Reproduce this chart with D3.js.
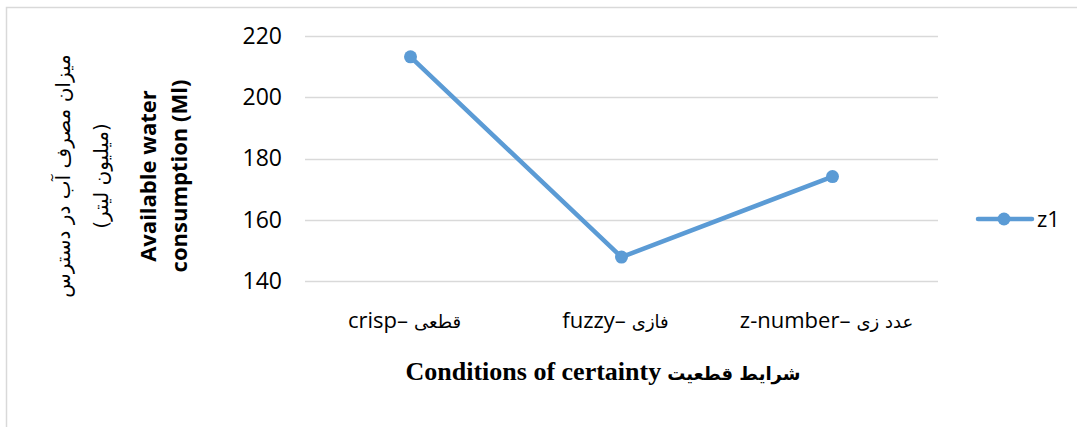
<!DOCTYPE html>
<html>
<head>
<meta charset="utf-8">
<script src="https://cdn.jsdelivr.net/npm/d3@7"></script>
<style>
  body { margin: 0; background: #fff; }
</style>
</head>
<body>
<script>
var w = 1077, h = 427;

// data
var categories = ['crisp', 'fuzzy', 'z-number'];
var catFa = ['قطعی', 'فازی', 'عدد زی'];
var z1 = [213.2, 147.8, 174.1];
var yTicks = [140, 160, 180, 200, 220];
var seriesName = 'z1';

var blue = '#5b9bd5';

var svg = d3.select('body').append('svg')
  .attr('width', w).attr('height', h);

// outer frame (right/bottom edges fall outside the picture)
svg.append('rect')
  .attr('x', 6.5).attr('y', 7.5)
  .attr('width', 1090).attr('height', 440)
  .attr('fill', 'none').attr('stroke', '#d9d9d9').attr('stroke-width', 1.5);

var x = d3.scaleBand().domain(categories).range([305, 938]);
var y = d3.scaleLinear().domain([140, 220]).range([281, 36]);

// gridlines
svg.append('g').selectAll('line').data(yTicks).enter().append('line')
  .attr('x1', 305).attr('x2', 938)
  .attr('y1', function(d) { return Math.round(y(d)) + 0.5; })
  .attr('y2', function(d) { return Math.round(y(d)) + 0.5; })
  .attr('stroke', '#d9d9d9').attr('stroke-width', 1.3);

// y axis labels
var yAxis = d3.axisLeft(y).tickValues(yTicks).tickSize(0).tickPadding(23);
var gy = svg.append('g').attr('transform', 'translate(305,0)').call(yAxis);
gy.select('.domain').remove();
gy.selectAll('text')
  .attr('font-family', '"Open Sans", sans-serif')
  .attr('font-size', 23).attr('fill', '#000');

// category labels
var xl = svg.append('g').selectAll('text').data(categories).enter().append('text')
  .attr('x', function(d) { return x(d) + x.bandwidth() / 2 - 6; })
  .attr('y', 328)
  .attr('text-anchor', 'middle')
  .attr('direction', 'ltr')
  .attr('font-family', '"Open Sans", sans-serif')
  .attr('font-size', 22).attr('fill', '#000');
xl.append('tspan').text(function(d) { return d + '–'; });
xl.append('tspan')
  .attr('font-family', '"DejaVu Sans", sans-serif')
  .attr('font-size', 18)
  .attr('dx', 6)
  .text(function(d, i) { return catFa[i]; });

// x title
var xt = svg.append('text')
  .attr('x', 603).attr('y', 380)
  .attr('text-anchor', 'middle')
  .attr('direction', 'ltr')
  .attr('font-family', '"Liberation Serif", "Times New Roman", serif')
  .attr('font-weight', 'bold').attr('font-size', 26);
xt.append('tspan').text('Conditions of certainty');
xt.append('tspan')
  .attr('font-family', '"DejaVu Sans", sans-serif')
  .attr('font-size', 18).attr('dx', 6)
  .text('شرایط قطعیت');

// y titles (rotated)
var ytitles = [
  { t: 'میزان مصرف آب در دسترس', x: 70, bold: false, f: '"DejaVu Sans", serif', s: 20 },
  { t: '(میلیون لیتر)', x: 108, bold: false, f: '"DejaVu Sans", serif', s: 20 },
  { t: 'Available water', x: 156, bold: true, f: '"Open Sans", sans-serif', s: 22 },
  { t: 'consumption (Ml)', x: 187, bold: true, f: '"Open Sans", sans-serif', s: 22 }
];
svg.append('g').selectAll('text').data(ytitles).enter().append('text')
  .attr('transform', function(d) { return 'translate(' + d.x + ',176) rotate(-90)'; })
  .attr('text-anchor', 'middle')
  .attr('font-family', function(d) { return d.f; })
  .attr('font-weight', function(d) { return d.bold ? 'bold' : 'normal'; })
  .attr('font-size', function(d) { return d.s; })
  .attr('fill', '#000')
  .text(function(d) { return d.t; });

// series line
var line = d3.line()
  .x(function(d, i) { return x(categories[i]) + x.bandwidth() / 2; })
  .y(function(d) { return y(d); });

svg.append('path').datum(z1)
  .attr('d', line)
  .attr('fill', 'none').attr('stroke', blue)
  .attr('stroke-width', 4.5).attr('stroke-linecap', 'round');

svg.append('g').selectAll('circle').data(z1).enter().append('circle')
  .attr('cx', function(d, i) { return x(categories[i]) + x.bandwidth() / 2; })
  .attr('cy', function(d) { return y(d); })
  .attr('r', 6.5)
  .attr('fill', blue);

// legend
var lg = svg.append('g').attr('transform', 'translate(978,219)');
lg.append('line').attr('x1', 0).attr('x2', 54)
  .attr('stroke', blue).attr('stroke-width', 4.5).attr('stroke-linecap', 'round');
lg.append('circle').attr('cx', 26).attr('r', 6.5).attr('fill', blue);
lg.append('text').attr('x', 59).attr('y', 8)
  .attr('font-family', '"Open Sans", sans-serif')
  .attr('font-size', 22).attr('fill', '#000')
  .text(seriesName);
</script>
</body>
</html>
